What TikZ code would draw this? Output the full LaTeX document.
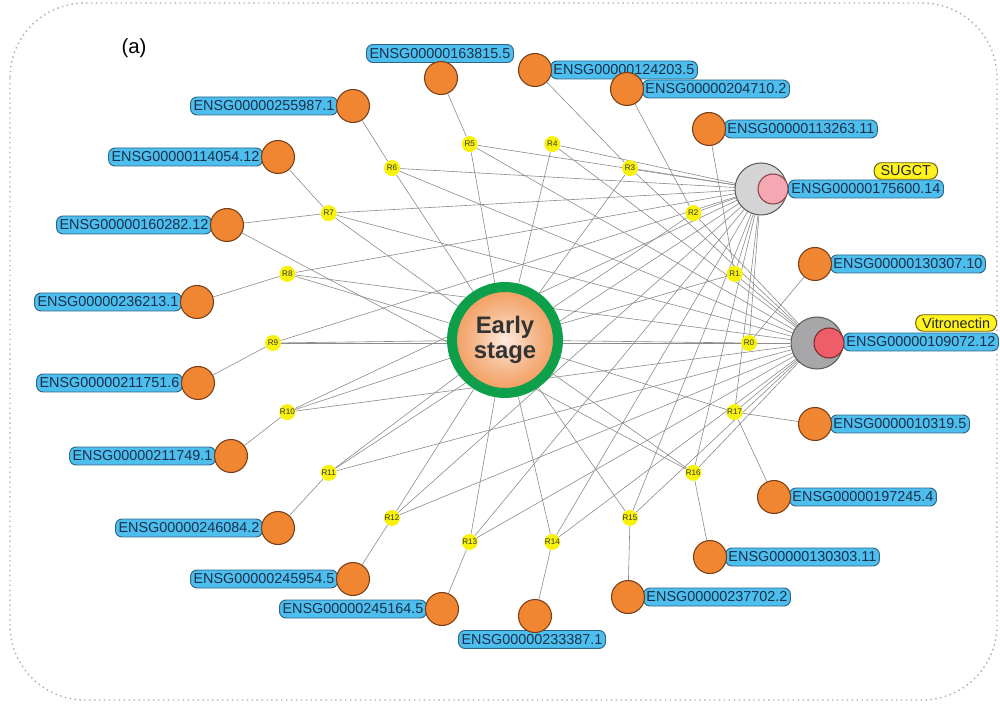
\documentclass[tikz,border=0pt]{standalone}
\usepackage{fontspec}
\setmainfont{Liberation Sans}
\pgfdeclarelayer{edges}
\pgfsetlayers{edges,main}

\definecolor{geneor}{HTML}{F08532}
\definecolor{genebd}{HTML}{7A3E16}
\definecolor{boxbl}{HTML}{4DBFEF}
\definecolor{boxbd}{HTML}{2E6585}
\definecolor{idtext}{HTML}{1C2F4A}
\definecolor{rxyel}{HTML}{F8F20A}
\definecolor{nameyel}{HTML}{FFF21E}
\definecolor{namebd}{HTML}{6A5F10}
\definecolor{linkgray}{HTML}{8C8C8C}
\definecolor{sugray}{HTML}{D4D4D4}
\definecolor{vitgray}{HTML}{A7A7A9}
\definecolor{graybd}{HTML}{5E5E5E}
\definecolor{pinkin}{HTML}{F5A8B2}
\definecolor{pinkbd}{HTML}{8A4048}
\definecolor{redin}{HTML}{EE5D68}
\definecolor{redbd}{HTML}{7A2B30}
\definecolor{ringgreen}{HTML}{0E9F4A}
\definecolor{epale}{HTML}{FCEBDF}
\definecolor{eor}{HTML}{EE7A26}
\definecolor{etext}{HTML}{333333}

\pgfdeclareradialshading{eshade}{\pgfpoint{0bp}{0bp}}{%
  color(0bp)=(epale); color(14bp)=(epale!55!eor); color(38bp)=(eor); color(50bp)=(eor)}

\begin{document}
\begin{tikzpicture}[x=0.02cm,y=-0.02cm,
  gene/.style={circle,draw=genebd,fill=geneor,line width=0.6pt,minimum size=0.66cm,inner sep=0pt},
  rxn/.style={circle,fill=rxyel,minimum size=0.32cm,inner sep=0pt,
    font=\fontsize{4.6}{5}\selectfont,text=black!80},
  idbox/.style={draw=boxbd,fill=boxbl,rounded corners=0.13cm,line width=0.55pt,
    inner xsep=0.06cm,inner ysep=0pt,minimum height=0.36cm,
    font=\fontsize{8.2}{10}\selectfont,text=idtext},
  namebox/.style={idbox,fill=nameyel,draw=namebd,minimum height=0.33cm,
    inner xsep=0.13cm,rounded corners=0.15cm,text=black!85},
  link/.style={draw=linkgray,line width=0.35pt},
]
\useasboundingbox (0,0) rectangle (1000,705);

% frame and panel letter
\draw[gray!65,dotted,line width=0.8pt,rounded corners=1.5cm] (10,3) rectangle (997,700);
\node[font=\fontsize{11.6}{13}\selectfont] (panel) at (134,48) {(a)};

% identifier labels, left side
\node[idbox,anchor=east] (l255987) at (338,106) {ENSG00000255987.1};
\node[idbox,anchor=east] (l114054) at (263,157) {ENSG00000114054.12};
\node[idbox,anchor=east] (l160282) at (212,225) {ENSG00000160282.12};
\node[idbox,anchor=east] (l236213) at (182,302) {ENSG00000236213.1};
\node[idbox,anchor=east] (l211751) at (183,383) {ENSG00000211751.6};
\node[idbox,anchor=east] (l211749) at (216,456) {ENSG00000211749.1};
\node[idbox,anchor=east] (l246084) at (263,528) {ENSG00000246084.2};
\node[idbox,anchor=east] (l245954) at (338,579) {ENSG00000245954.5};
\node[idbox,anchor=east] (l245164) at (427,609) {ENSG00000245164.5};
% top and bottom
\node[idbox,anchor=south] (l163815) at (440,63) {ENSG00000163815.5};
\node[idbox,anchor=north] (l233387) at (532,630) {ENSG00000233387.1};
% right side
\node[idbox,anchor=west] (l124203) at (550,70) {ENSG00000124203.5};
\node[idbox,anchor=west] (l204710) at (642,89) {ENSG00000204710.2};
\node[idbox,anchor=west] (l113263) at (724,129) {ENSG00000113263.11};
\node[idbox,anchor=west] (l175600) at (788,189) {ENSG00000175600.14};
\node[idbox,anchor=west] (l130307) at (830,264) {ENSG00000130307.10};
\node[idbox,anchor=west] (l109072) at (843,342) {ENSG00000109072.12};
\node[idbox,anchor=west] (l10319)  at (830,424) {ENSG0000010319.5};
\node[idbox,anchor=west] (l197245) at (789,497) {ENSG00000197245.4};
\node[idbox,anchor=west] (l130303) at (725,557) {ENSG00000130303.11};
\node[idbox,anchor=west] (l237702) at (643,597) {ENSG00000237702.2};

% gene names
\node[namebox,anchor=east] (nsugct) at (938,171) {SUGCT};
\node[namebox,anchor=east] (nvitro) at (997,323) {Vitronectin};

% gene nodes
\node[gene] (g163815) at (441,78) {};
\node[gene] (g124203) at (535,70) {};
\node[gene] (g204710) at (627,89) {};
\node[gene] (g113263) at (709,129) {};
\node[gene] (g130307) at (815,264) {};
\node[gene] (g10319)  at (815,424) {};
\node[gene] (g197245) at (774,497) {};
\node[gene] (g130303) at (710,557) {};
\node[gene] (g237702) at (628,597) {};
\node[gene] (g233387) at (535,616) {};
\node[gene] (g245164) at (442,609) {};
\node[gene] (g245954) at (353,579) {};
\node[gene] (g246084) at (278,528) {};
\node[gene] (g211749) at (231,456) {};
\node[gene] (g211751) at (198,383) {};
\node[gene] (g236213) at (197,302) {};
\node[gene] (g160282) at (227,225) {};
\node[gene] (g114054) at (278,157) {};
\node[gene] (g255987) at (353,106) {};

% highlighted genes
\node[circle,draw=graybd,fill=sugray,line width=0.6pt,minimum size=1.04cm,inner sep=0pt] (sugct) at (761,189) {};
\node[circle,draw=pinkbd,fill=pinkin,line width=0.6pt,minimum size=0.6cm,inner sep=0pt] (sugctin) at (773,189) {};
\node[circle,draw=graybd,fill=vitgray,line width=0.6pt,minimum size=1.04cm,inner sep=0pt] (vitro) at (817,343) {};
\node[circle,draw=redbd,fill=redin,line width=0.6pt,minimum size=0.6cm,inner sep=0pt] (vitroin) at (829,343) {};

% central stage node
\node[circle,minimum size=2.12cm,inner sep=0pt,draw=ringgreen,line width=0.2cm,
  shading=eshade,align=center,text=etext,
  font=\fontsize{13.6}{14.6}\selectfont\bfseries] (early) at (505,340) {Early\\stage};

% reaction nodes on an ellipse around the centre
\foreach \i in {0,...,17}{
  \node[rxn] (r\i) at ({511+238*cos(20*\i)},{343-202*sin(20*\i)}) {R\i};
}

% connectors
\begin{pgfonlayer}{edges}
\foreach \i in {0,...,17}{
  \draw[link] (r\i) -- (early);
  \draw[link] (r\i) -- (sugct);
  \draw[link] (r\i) -- (vitro);
}
\foreach \r/\g in {0/130307,1/113263,2/204710,3/124203,5/163815,6/255987,
  7/114054,7/160282,8/236213,9/211751,10/211749,11/246084,12/245954,
  13/245164,14/233387,15/237702,16/130303,16/160282,17/10319,17/197245}{
  \draw[link] (r\r) -- (g\g);
}
\end{pgfonlayer}
\end{tikzpicture}
\end{document}
